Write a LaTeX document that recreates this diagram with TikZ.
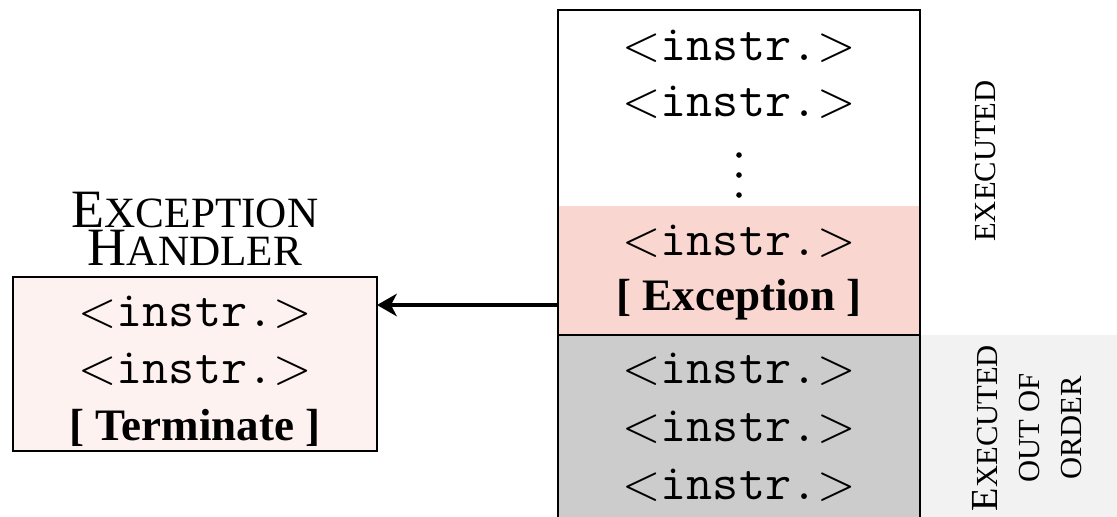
\documentclass[tikz,border=0pt]{standalone}
\usepackage{fontspec}
\setmainfont{Liberation Serif}
\usetikzlibrary{arrows.meta,fit}
\definecolor{excpink}{HTML}{FAD6D0}
\definecolor{handpink}{HTML}{FEF2F0}
\definecolor{ooogray}{HTML}{CCCCCC}
\definecolor{lblgray}{HTML}{F2F2F2}
\newcommand\instrtxt{$<$\texttt{instr.}$>$}
\newcommand\titlesc[2]{{\fontsize{12}{8.45}\selectfont #1}{\fontsize{9.6}{8.45}\selectfont #2}}
\newcommand\lblbig[1]{{\fontsize{8.5}{9.4}\selectfont #1}}
\tikzset{
  blk/.style={inner sep=0pt, outer sep=0pt},
  frame/.style={draw=black, line width=0.45pt},
  instrline/.style={anchor=base, inner sep=0pt, font=\fontsize{11.25}{13}\selectfont},
  boldline/.style={anchor=base, inner sep=0pt, font=\fontsize{10}{12}\selectfont\bfseries},
  titleblock/.style={align=center, inner sep=0pt, font=\fontsize{12}{8.45}\selectfont},
  sidelbl/.style={rotate=90, align=center, inner sep=0pt, font=\fontsize{6.8}{9.4}\selectfont},
  dotmark/.style={circle, fill=black, inner sep=0pt, minimum size=1.25pt},
  conn/.style={-{Stealth[length=4.4pt,width=5pt,inset=1.3pt]}, line width=0.7pt}
}
\begin{document}
\begin{tikzpicture}[x=0.2222pt,y=-0.2222pt]
\useasboundingbox (0,0) rectangle (1117,516);
% backgrounds
\node[blk, fit={(920,335) (1117,530)}, fill=lblgray] (lblbg) {};
\node[blk, fit={(558,10) (920,206)}, fill=white] (topblk) {};
\node[blk, fit={(558,206) (920,335)}, fill=excpink] (excblk) {};
\node[blk, fit={(558,335) (920,530)}, fill=ooogray] (oooblk) {};
\draw[frame] (oooblk.south west) -- (topblk.north west) -- (topblk.north east) -- (oooblk.south east);
\draw[frame] (oooblk.north west) -- (oooblk.north east);
% main column text
\node[instrline] (i1) at (739,60) {\instrtxt};
\node[instrline] (i2) at (739,116) {\instrtxt};
\node[dotmark] (d1) at (739,155) {};
\node[dotmark] (d2) at (739,175) {};
\node[dotmark] (d3) at (739,195) {};
\node[instrline] (i3) at (739,255) {\instrtxt};
\node[boldline] (exc) at (739,310) {[ Exception ]};
\node[instrline] (i4) at (739,383) {\instrtxt};
\node[instrline] (i5) at (739,441) {\instrtxt};
\node[instrline] (i6) at (739,499) {\instrtxt};
% handler
\node[titleblock] (title) at (195,229) {\titlesc{E}{XCEPTION}\\\titlesc{H}{ANDLER}};
\node[blk, frame, fit={(13,277) (377,451)}, fill=handpink] (handler) {};
\node[instrline] (h1) at (195,326) {\instrtxt};
\node[instrline] (h2) at (195,383) {\instrtxt};
\node[boldline] (h3) at (195,440) {[ Terminate ]};
% arrow
\coordinate (src) at (558,305);
\draw[conn] (src) -- (src -| handler.east);
% side labels
\node[sidelbl] (lblexec) at (986,161) {EXECUTED};
\node[sidelbl] (lblooo) at (1027,428) {\lblbig{E}XECUTED\\OUT OF\\ORDER};
\end{tikzpicture}
\end{document}
